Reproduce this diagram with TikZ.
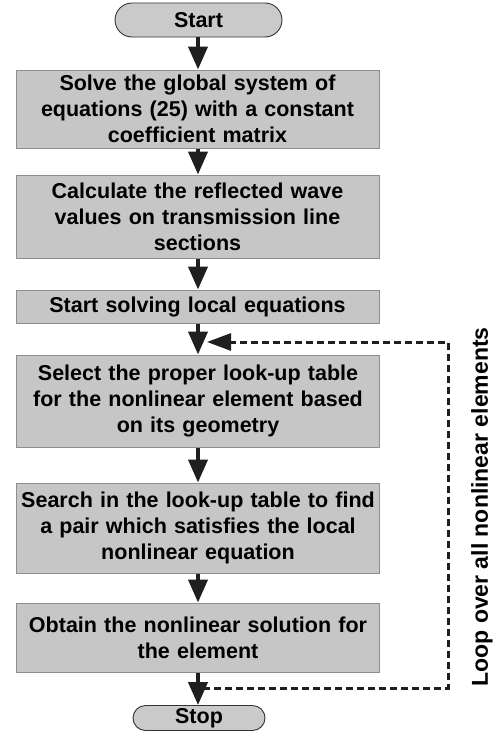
\documentclass[tikz,border=0pt]{standalone}
\usepackage{fontspec}
\setmainfont{Liberation Sans}
\usetikzlibrary{arrows.meta}
\definecolor{boxfill}{HTML}{C6C6C6}
\definecolor{boxline}{HTML}{8E8E8E}
\definecolor{pillfill}{HTML}{CACACA}
\begin{document}
\begin{tikzpicture}[x=1pt,y=-1pt,
  every node/.style={font=\bfseries\fontsize{21.5}{26}\selectfont, inner sep=0pt, align=center},
  stepbox/.style={draw=boxline, line width=1pt, fill=boxfill, minimum width=363pt, text width=355pt},
  pill/.style={draw=black!80, line width=0.9pt, fill=pillfill, rounded corners=12pt},
  flow/.style={line width=4pt, -{Triangle[length=23pt,width=19pt]}, color=black!88},
  loop/.style={line width=3pt, dash pattern=on 7pt off 4pt, color=black!88},
  looptip/.style={-{Triangle[length=24pt,width=17pt]}}
]
\useasboundingbox (0,0) rectangle (498,742);
\node[pill, minimum width=167pt, minimum height=34pt, rounded corners=17pt] (start) at (198.5,20) {Start};
\node[stepbox, minimum height=78pt] (b1) at (197.5,109) {Solve the global system of\\equations (25) with a constant\\coefficient matrix};
\node[stepbox, minimum height=83pt] (b2) at (197.5,216.5) {Calculate the reflected wave\\values on transmission line\\sections};
\node[stepbox, minimum height=33pt] (b3) at (197.5,306.5) {Start solving local equations};
\node[stepbox, minimum height=92pt] (b4) at (198,401) {Select the proper look-up table\\for the nonlinear element based\\on its geometry};
\node[stepbox, minimum height=90pt] (b5) at (198,528) {Search in the look-up table to find\\a pair which satisfies the local\\nonlinear equation};
\node[stepbox, minimum height=69pt] (b6) at (198,637.5) {Obtain the nonlinear solution for\\the element};
\node[pill, minimum width=132pt, minimum height=25pt, rounded corners=12.5pt] (stop) at (199,718) {Stop};
\node[rotate=90, font=\bfseries\fontsize{23}{27}\selectfont] (lbl) at (482,507) {Loop over all nonlinear elements};

\draw[flow] (start.south -| 198,0) -- (b1.north -| 198,0);
\draw[flow] (b1.south -| 198,0) -- (b2.north -| 198,0);
\draw[flow] (b2.south -| 198,0) -- (b3.north -| 198,0);
\draw[flow] (b3.south -| 198,0) -- (b4.north -| 198,0);
\draw[flow] (b4.south -| 198,0) -- (b5.north -| 198,0);
\draw[flow] (b5.south -| 198,0) -- (b6.north -| 198,0);
\draw[flow] (b6.south -| 198,0) -- (stop.north -| 198,0);

\coordinate (lb) at (203,688);
\coordinate (lbr) at (448,688);
\coordinate (ltr) at (448,342);
\coordinate (lt) at (207,342);
\draw[loop] (lb) -- (lbr) -- (ltr) -- (230,342);
\draw[line width=3pt, color=black!88, looptip] (232,342) -- (lt);
\end{tikzpicture}
\end{document}
